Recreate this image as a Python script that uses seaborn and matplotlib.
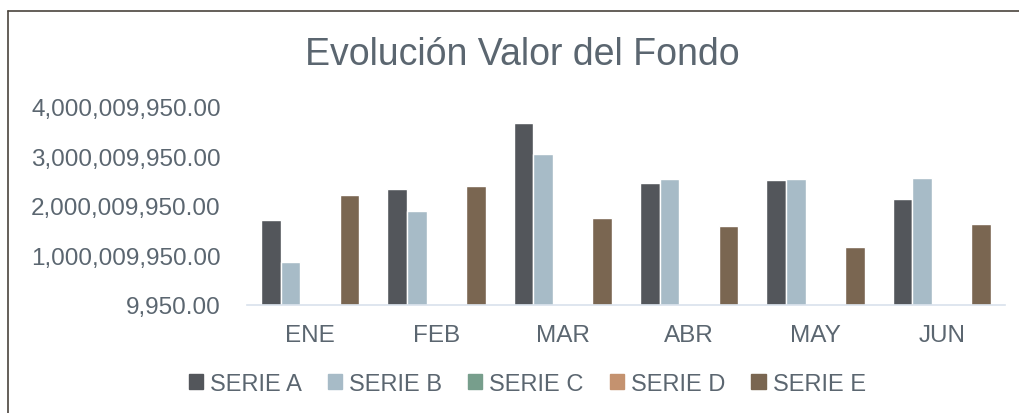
import pandas as pd
import numpy as np
import matplotlib
matplotlib.use("Agg")
import matplotlib.pyplot as plt
import seaborn as sns
from matplotlib.lines import Line2D
from matplotlib.ticker import FuncFormatter

meses = ["ENE", "FEB", "MAR", "ABR", "MAY", "JUN"]
series = ["SERIE A", "SERIE B", "SERIE C", "SERIE D", "SERIE E"]
serie_a = [1725009950, 2340009950, 3685009950, 2465009950, 2530009950, 2150009950]
serie_b = [870009950, 1890009950, 3040009950, 2545009950, 2540009950, 2560009950]
serie_c = [0, 0, 0, 0, 0, 0]
serie_d = [0, 0, 0, 0, 0, 0]
serie_e = [2220009950, 2410009950, 1765009950, 1600009950, 1165009950, 1630009950]
colores = ["#53565b", "#a7bbc7", "#779e8c", "#c4926f", "#7a6651"]

df = pd.DataFrame({"mes": meses, "SERIE A": serie_a, "SERIE B": serie_b,
                   "SERIE C": serie_c, "SERIE D": serie_d, "SERIE E": serie_e})
df = df.melt(id_vars="mes", var_name="serie", value_name="valor")

sns.set_style("white")
plt.rcParams["font.family"] = ["Liberation Sans", "DejaVu Sans"]
txt = "#5b6670"

fig = plt.figure(figsize=(10.2, 4.14), dpi=100)
ax = fig.add_axes([0.2422, 0.2609, 0.7431, 0.4783])
sns.barplot(data=df, x="mes", y="valor", hue="serie", hue_order=series,
            palette=colores, saturation=1, width=0.78, ax=ax, legend=False)

ax.set_ylim(9950, 4000009950)
ax.set_yticks(np.arange(9950, 4100000000, 1000000000))
ax.yaxis.set_major_formatter(FuncFormatter(lambda v, p: f"{v:,.2f}"))
ax.set_xlabel("")
ax.set_ylabel("")
ax.tick_params(axis="y", length=0, pad=19, labelsize=17.5, labelcolor=txt)
ax.tick_params(axis="x", length=0, pad=14, labelsize=17.5, labelcolor=txt)
for s in ["top", "right", "left"]:
    ax.spines[s].set_visible(False)
ax.spines["bottom"].set_color("#d9e2ec")
ax.spines["bottom"].set_linewidth(1.2)

fig.text(0.512, (414 - 65) / 414, "Evolución Valor del Fondo", ha="center",
         va="baseline", fontsize=27, color=txt)

handles = [plt.Rectangle((0, 0), 1, 1, color=c) for c in colores]
fig.legend(handles, series, loc="center", bbox_to_anchor=(0.517, 0.07), ncol=5,
           frameon=False, fontsize=17, labelcolor=txt, handlelength=0.6,
           handleheight=0.6, handletextpad=0.3, columnspacing=1.1)

borde = "#4a443d"
fig.add_artist(Line2D([8.5 / 1020, 8.5 / 1020], [0, (414 - 12) / 414], color=borde, lw=1.2))
fig.add_artist(Line2D([8 / 1020, 1], [(414 - 12) / 414, (414 - 12) / 414], color=borde, lw=1.2))

fig.savefig("out.png", dpi=100)
